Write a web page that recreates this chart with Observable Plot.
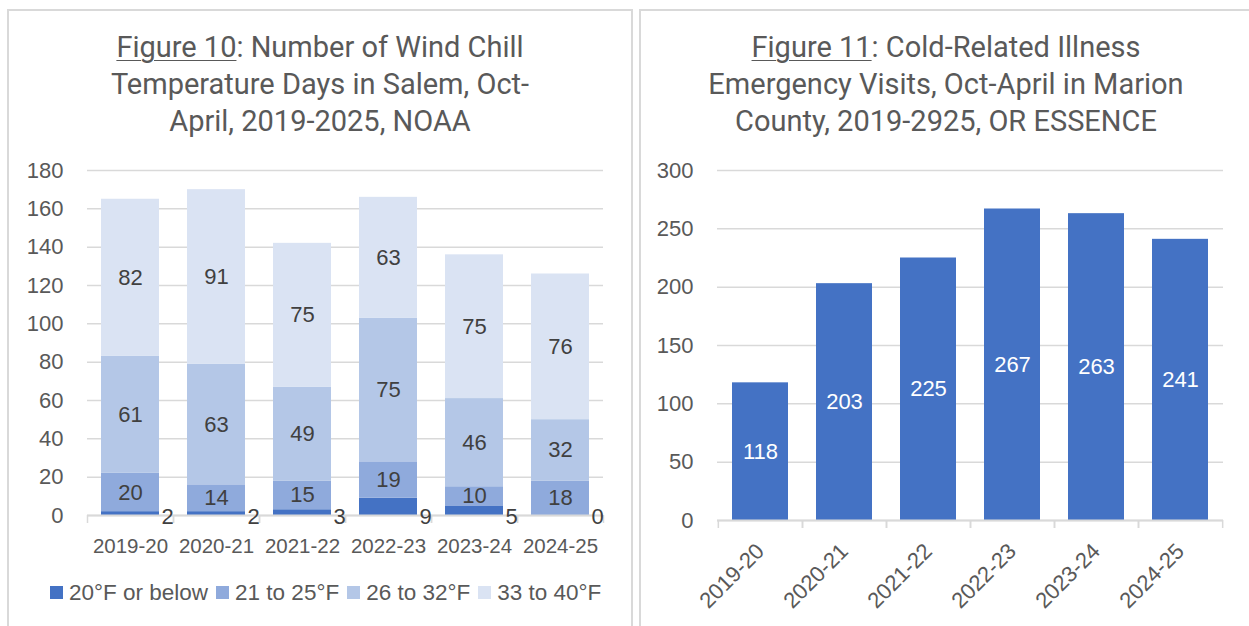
<!DOCTYPE html>
<html><head><meta charset="utf-8">
<script src="https://cdn.jsdelivr.net/npm/d3@7"></script>
<script src="https://cdn.jsdelivr.net/npm/@observablehq/plot@0.6"></script>
<style>
body{margin:0;background:#fff;width:1249px;height:626px;overflow:hidden;position:relative;font-family:"Liberation Sans",Arial,sans-serif;}
.panel{position:absolute;border:2px solid #d9d9d9;box-sizing:border-box;}
.title{position:absolute;text-align:center;font-family:Roboto,sans-serif;font-size:29px;line-height:37px;color:#595959;white-space:nowrap;}
.title u{text-decoration-thickness:1px;text-underline-offset:3px}
.chart{position:absolute}
.lg-swatches{font-family:"Liberation Sans",Arial,sans-serif !important;font-size:22.5px !important;color:#595959 !important;}
.lg-swatch{margin-right:8px !important;}
.lg-swatch > svg{margin-right:6px !important;}
</style></head><body>
<div class="panel" style="left:7px;top:9px;width:626px;height:640px"></div>
<div class="panel" style="left:639px;top:9px;width:622px;height:640px"></div>
<div class="title" style="left:7px;top:29px;width:626px"><u>Figure 10</u>: Number of Wind Chill<br>Temperature Days in Salem, Oct-<br>April, 2019-2025, NOAA</div>
<div class="title" style="left:639px;top:29px;width:614px"><u>Figure 11</u>: Cold-Related Illness<br>Emergency Visits, Oct-April in Marion<br>County, 2019-2925, OR ESSENCE</div>
<div class="chart" id="left" style="left:0px;top:150px"></div>
<div class="chart" id="right" style="left:639px;top:150px"></div>
<div class="chart" id="legend" style="left:50px;top:576px"></div>
<script>
// ---- data ----
const seasons = ["2019-20","2020-21","2021-22","2022-23","2023-24","2024-25"];
const bands = ["20°F or below","21 to 25°F","26 to 32°F","33 to 40°F"];
const below20 = [2,2,3,9,5,0];
const f21to25 = [20,14,15,19,10,18];
const f26to32 = [61,63,49,75,46,32];
const f33to40 = [82,91,75,63,75,76];
const visits = [118,203,225,267,263,241];
const leftTicks = [0,20,40,60,80,100,120,140,160,180];
const rightTicks = [0,50,100,150,200,250,300];
const bandColors = ["#4472C4","#8FAADC","#B4C7E7","#DAE3F3"];

const series = [below20,f21to25,f26to32,f33to40];
const rows = seasons.flatMap((s,i)=>series.map((arr,j)=>({season:s, band:bands[j], value:arr[i]})));
const visitRows = seasons.map((s,i)=>({season:s, visits:visits[i]}));

const grid = "#d9d9d9";
const txt = "#595959";
const lab = "#404040";
const font = {fontFamily:"Liberation Sans, Arial, sans-serif", fontSize:"21px", color:txt, background:"transparent", overflow:"visible"};

// ---- left: stacked bars ----
const lw = 633, lmL = 87, lmR = 30;
const lHalf = (lw - lmL - lmR) / seasons.length / 2;
const left = Plot.plot({
  width: lw, height: 420, marginLeft: lmL, marginRight: lmR, marginTop: 20, marginBottom: 55,
  style: font,
  x: {domain: seasons, paddingInner: 0.33, paddingOuter: 0.165, label: null},
  y: {domain: [0,180], label: null},
  color: {domain: bands, range: bandColors},
  marks: [
    Plot.gridY(leftTicks, {stroke: grid, strokeOpacity: 1, strokeWidth: 1.5}),
    Plot.barY(rows, {x: "season", y: "value", fill: "band"}),
    Plot.ruleY([0], {stroke: grid, strokeWidth: 2}),
    Plot.axisX({tickSize: 0, tickPadding: 23, fontSize: 20.5, fill: txt}),
    Plot.axisX({tickSize: 8, tickFormat: () => "", dx: -lHalf, stroke: grid, strokeWidth: 1.5, strokeOpacity: 1}),
    Plot.axisX({tickSize: 8, tickFormat: () => "", dx: lHalf, stroke: grid, strokeWidth: 1.5, strokeOpacity: 1}),
    Plot.axisY(leftTicks, {tickSize: 0, tickPadding: 24, fontSize: 22, fill: txt}),
    Plot.text(rows, Plot.stackY({x: "season", y: "value", text: d => d.band === bands[0] ? "" : String(d.value), fill: lab, fontSize: 22})),
    Plot.text(rows.filter(d => d.band === bands[0]), {x: "season", text: "value", frameAnchor: "bottom", lineAnchor: "middle", dx: lHalf - 6, dy: 1, fill: lab, fontSize: 22})
  ]
});
document.getElementById("left").appendChild(left);

// ---- legend ----
const legend = Plot.legend({color: {type: "ordinal", domain: bands, range: bandColors}, legend: "swatches", swatchSize: 13, className: "lg", style: {fontSize: "22.5px"}});
document.getElementById("legend").appendChild(legend);

// ---- right: bars ----
const rw = 610, rmL = 78, rmR = 26;
const rHalf = (rw - rmL - rmR) / seasons.length / 2;
const right = Plot.plot({
  width: rw, height: 476, marginLeft: rmL, marginRight: rmR, marginTop: 20, marginBottom: 106,
  style: {...font, fontSize: "22px"},
  x: {domain: seasons, paddingInner: 0.335, paddingOuter: 0.1675, label: null},
  y: {domain: [0,300], label: null},
  marks: [
    Plot.gridY(rightTicks, {stroke: grid, strokeOpacity: 1, strokeWidth: 1.5}),
    Plot.barY(visitRows, {x: "season", y: "visits", fill: "#4472C4"}),
    Plot.ruleY([0], {stroke: grid, strokeWidth: 2}),
    Plot.axisX({tickSize: 0, tickPadding: 27, tickRotate: -45, fontSize: 22, fill: txt}),
    Plot.axisX({tickSize: 8, tickFormat: () => "", dx: -rHalf, stroke: grid, strokeWidth: 1.5, strokeOpacity: 1}),
    Plot.axisX({tickSize: 8, tickFormat: () => "", dx: rHalf, stroke: grid, strokeWidth: 1.5, strokeOpacity: 1}),
    Plot.axisY(rightTicks, {tickSize: 0, tickPadding: 24, fontSize: 22, fill: txt}),
    Plot.text(visitRows, {x: "season", y: d => d.visits / 2, text: "visits", fill: "white", fontSize: 22})
  ]
});
document.getElementById("right").appendChild(right);
</script>
</body></html>
